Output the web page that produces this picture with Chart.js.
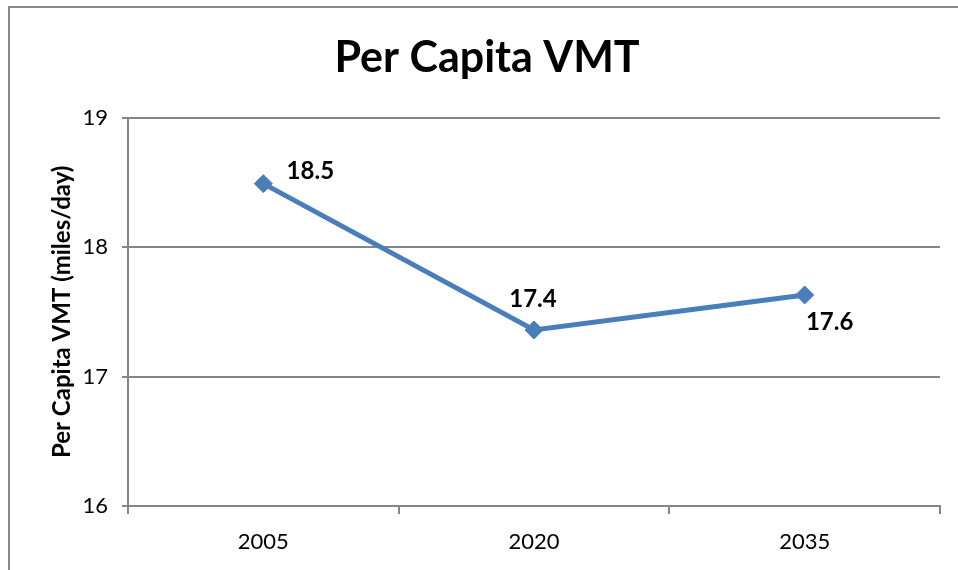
<!DOCTYPE html>
<html>
<head>
<meta charset="utf-8">
<script src="https://cdn.jsdelivr.net/npm/chart.js@4"></script>
<style>
  body { margin: 0; background: #fff; overflow: hidden; }
  #frame { position: absolute; left: 8px; top: 6px; width: 1000px; height: 600px; border: 2px solid #888; }
  #vmt-chart { position: absolute; left: 0; top: 0; }
</style>
</head>
<body>
<div id="frame"></div>
<canvas id="vmt-chart" width="958" height="570"></canvas>
<script>
const years = ['2005', '2020', '2035'];
const perCapitaVmt = [18.49, 17.36, 17.63];
const valueLabels = ['18.5', '17.4', '17.6'];

// where each value label sits relative to its point
const labelOffsets = [[47, -12], [-1, -31], [25, 27]];

const FONT = 'Lato, "Open Sans", sans-serif';

const valueLabelPlugin = {
  id: 'valueLabels',
  afterDatasetsDraw(chart) {
    const ctx = chart.ctx;
    const meta = chart.getDatasetMeta(0);
    ctx.save();
    ctx.font = 'bold 24px ' + FONT;
    ctx.fillStyle = '#000';
    ctx.textAlign = 'center';
    ctx.textBaseline = 'middle';
    meta.data.forEach((pt, i) => {
      ctx.fillText(valueLabels[i], pt.x + labelOffsets[i][0], pt.y + labelOffsets[i][1]);
    });
    ctx.restore();
  }
};

new Chart(document.getElementById('vmt-chart'), {
  type: 'line',
  data: {
    labels: years,
    datasets: [{
      label: 'Per Capita VMT',
      data: perCapitaVmt,
      borderColor: '#4A7EBB',
      backgroundColor: '#4A7EBB',
      borderWidth: 5,
      pointStyle: 'rectRot',
      pointRadius: 9,
      pointBorderWidth: 1,
      tension: 0
    }]
  },
  options: {
    responsive: false,
    animation: false,
    devicePixelRatio: 1,
    layout: { padding: { left: 34, right: 18, top: 0, bottom: 0 } },
    plugins: {
      legend: { display: false },
      tooltip: { enabled: false },
      title: {
        display: true,
        text: 'Per Capita VMT',
        color: '#000',
        font: { family: FONT, size: 43, weight: 'bold', lineHeight: 1.2 },
        padding: { top: 32, bottom: 34 }
      }
    },
    scales: {
      x: {
        offset: true,
        grid: { offset: true, drawOnChartArea: false, color: '#868686', tickLength: 8, lineWidth: 2 },
        border: { color: '#868686', width: 2 },
        ticks: { color: '#000', font: { family: FONT, size: 22 }, padding: 15 },
        afterFit(scale) { scale.height = 64; }
      },
      y: {
        min: 16,
        max: 19,
        ticks: { stepSize: 1, color: '#000', font: { family: FONT, size: 22 }, padding: 14 },
        grid: { color: '#868686', lineWidth: 2, tickLength: 6 },
        border: { color: '#868686', width: 2 },
        title: {
          display: true,
          text: 'Per Capita VMT (miles/day)',
          color: '#000',
          font: { family: FONT, size: 24, weight: 'bold' },
          padding: { top: 14, bottom: 0 }
        },
        afterFit(scale) { scale.width = 94; }
      }
    }
  },
  plugins: [valueLabelPlugin]
});
</script>
</body>
</html>
